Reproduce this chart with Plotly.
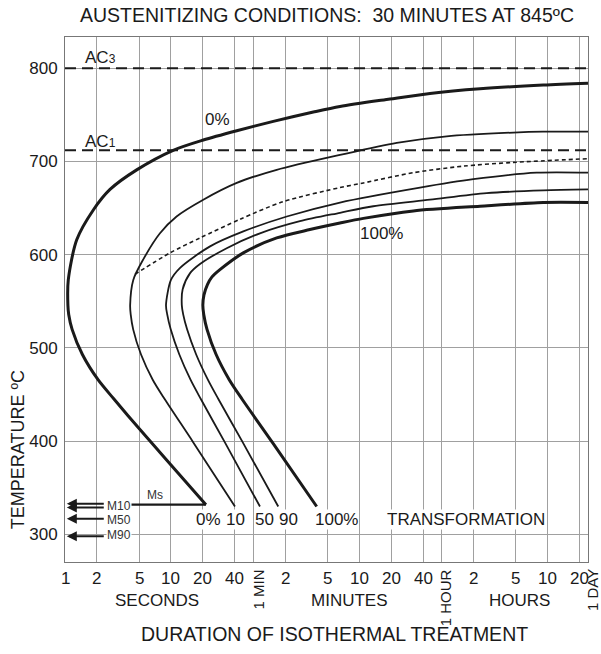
import math
import plotly.graph_objects as go

# ---- data: isothermal transformation curves (time in seconds, temperature in °C) ----
t_0pct = [21.4, 9.1, 5.15, 2.91, 2.05, 1.46, 1.167, 1.084, 1.065, 1.074, 1.29, 1.85, 2.66,
          4.75, 10.5, 20.2, 41.8, 92.5, 221, 394, 1168, 2786, 8260, 32700, 86400]
T_0pct = [332, 380, 412, 445, 466, 493, 520, 536, 546, 573, 616, 648, 670,
          691, 712, 723, 733, 743, 753, 759, 767, 773, 778, 782, 784]

t_10pct = [40.2, 16.2, 8.75, 6.73, 5.22, 4.40, 4.17, 4.12, 4.41, 5.48, 7.88, 11.3, 20.2, 41.8,
           99.6, 394, 1352, 4010, 17000, 32500, 86400]
T_10pct = [330, 399, 445, 466, 493, 520, 536, 546, 573, 595, 623, 641, 659, 677,
           691, 707, 720, 727, 731, 732, 732]

t_dash = [4.57, 9.8, 18.8, 44.8, 115, 394, 655, 1938, 5740, 17000, 86400]
T_dash = [579, 602, 618, 638, 657, 672, 677, 688, 695, 699, 703]

t_50pct = [69.2, 32.2, 19.2, 15.3, 12.0, 9.95, 9.22, 8.98, 10.0, 12.2, 23.4, 48.2, 124, 394,
           2240, 7140, 28300, 86400]
T_50pct = [330, 399, 445, 466, 493, 520, 536, 546, 573, 586, 609, 625, 641, 656,
           672, 681, 688, 688]

t_90pct = [103, 47.5, 28.1, 22.3, 17.3, 14.2, 13.05, 12.66, 12.9, 15.1, 18.8, 33.6, 69.2, 165,
           394, 813, 2786, 9550, 32700, 86400]
T_90pct = [330, 399, 445, 466, 493, 520, 536, 546, 563, 580, 590, 607, 623, 636,
           645, 652, 659, 666, 669, 670]

t_100pct = [237.5, 90.3, 47.0, 35.5, 26.7, 21.9, 20.4, 20.0, 20.5, 22.1, 24.3, 29, 48.2, 99.6,
            205, 394, 655, 1938, 8260, 32700, 86400]
T_100pct = [330, 399, 445, 466, 493, 520, 536, 546, 557, 568, 576, 584, 602, 618,
            627, 634, 639, 647, 652, 656, 656]

# critical temperatures
AC3 = 800
AC1 = 712
MS = 332
MS_START = 4.2            # left end of the Ms line (s)
M_ARROWS = [333, 329, 317, 298]
M_LABELS = [("M10", 331), ("M50", 316), ("M90", 299)]

# axis ticks
grid_times = [1, 2, 5, 10, 20, 40, 60, 120, 300, 600, 1200, 2400, 3600,
              7200, 18000, 36000, 72000, 86400]
tick_times = [1, 2, 5, 10, 20, 40, 120, 300, 600, 1200, 2400, 7200, 18000, 36000, 72000]
tick_texts = ["1", "2", "5", "10", "20", "40", "2", "5", "10", "20", "40", "2", "5", "10", "20"]
unit_times = [60, 3600, 86400]
unit_texts = ["1 MIN", "1 HOUR", "1 DAY"]
unit_shifts = [5, 4, 4]
group_times = [7.4, 480, 19700]
group_texts = ["SECONDS", "MINUTES", "HOURS"]
temp_ticks = [300, 400, 500, 600, 700, 800]

# curve labels
pct_label_times = [22.4, 41, 77, 130, 369]
pct_label_texts = ["0%", "10", "50", "90", "100%"]

FONT = "Liberation Sans, Arial, sans-serif"
INK = "#1a1a1a"
T_MAX = 86400

fig = go.Figure()

# dashed critical lines
for level in (AC3, AC1):
    fig.add_trace(go.Scatter(x=[1, T_MAX], y=[level, level], mode="lines",
                             line=dict(color=INK, width=2, dash="11px,6px"),
                             hoverinfo="skip"))

curves = [
    (t_0pct, T_0pct, 3.0, "solid"),
    (t_10pct, T_10pct, 1.8, "solid"),
    (t_dash, T_dash, 1.6, "4px,3px"),
    (t_50pct, T_50pct, 1.8, "solid"),
    (t_90pct, T_90pct, 1.8, "solid"),
    (t_100pct, T_100pct, 3.0, "solid"),
]
for t, T, w, d in curves:
    fig.add_trace(go.Scatter(x=t, y=T, mode="lines",
                             line=dict(color=INK, width=w, dash=d, shape="spline", smoothing=0.8),
                             hoverinfo="skip"))

# Ms line to the start of the 0% curve
fig.add_trace(go.Scatter(x=[MS_START, t_0pct[0]], y=[MS, T_0pct[0]], mode="lines",
                         line=dict(color=INK, width=2.2), hoverinfo="skip"))

ann = []
# martensite arrows
for lvl in M_ARROWS:
    ann.append(dict(x=math.log10(1.04), y=lvl, ax=math.log10(2.4), ay=lvl,
                    xref="x", yref="y", axref="x", ayref="y", text="", showarrow=True,
                    arrowhead=2, arrowsize=1.0, arrowwidth=2, arrowcolor=INK))
for txt, lvl in M_LABELS:
    ann.append(dict(x=math.log10(3.2), y=lvl, xref="x", yref="y", text=txt, showarrow=False,
                    font=dict(family=FONT, size=12, color="#333"), bgcolor="white", borderpad=0))
ann.append(dict(x=math.log10(7.1), y=342, xref="x", yref="y", text="Ms", showarrow=False,
                font=dict(family=FONT, size=12, color="#333")))

# curve labels
for tt, txt in zip(pct_label_times, pct_label_texts):
    ann.append(dict(x=math.log10(tt), y=316, xref="x", yref="y", text=txt, showarrow=False,
                    font=dict(family=FONT, size=17, color=INK), bgcolor="white", borderpad=0))
ann.append(dict(x=math.log10(6090), y=316, xref="x", yref="y", text="TRANSFORMATION",
                showarrow=False, font=dict(family=FONT, size=17, color=INK),
                bgcolor="white", borderpad=0))
ann.append(dict(x=math.log10(27.8), y=745, xref="x", yref="y", text="0%", showarrow=False,
                font=dict(family=FONT, size=17, color=INK)))
ann.append(dict(x=math.log10(975), y=623, xref="x", yref="y", text="100%", showarrow=False,
                font=dict(family=FONT, size=17, color=INK)))
ann.append(dict(x=math.log10(2.14), y=812, xref="x", yref="y",
                text='AC<span style="font-size:12px">3</span>', showarrow=False,
                font=dict(family=FONT, size=17, color=INK)))
ann.append(dict(x=math.log10(2.14), y=721, xref="x", yref="y",
                text='AC<span style="font-size:12px">1</span>', showarrow=False,
                font=dict(family=FONT, size=17, color=INK)))

# x tick labels
for tt, txt in zip(tick_times, tick_texts):
    ann.append(dict(x=math.log10(tt), y=0, xref="x", yref="paper", yanchor="top", yshift=-5,
                    text=txt, showarrow=False, font=dict(family=FONT, size=17, color=INK)))
for tt, txt, sh in zip(unit_times, unit_texts, unit_shifts):
    ann.append(dict(x=math.log10(tt), y=0, xref="x", yref="paper", yanchor="top", yshift=-5,
                    xshift=sh, text=txt, textangle=-90, showarrow=False,
                    font=dict(family=FONT, size=15, color=INK)))
for tt, txt in zip(group_times, group_texts):
    ann.append(dict(x=math.log10(tt), y=0, xref="x", yref="paper", yanchor="top", yshift=-27,
                    text=txt, showarrow=False, font=dict(family=FONT, size=17, color=INK)))

# axis titles and heading
ann.append(dict(x=0.515, y=0, xref="paper", yref="paper", yanchor="top", yshift=-59,
                text="DURATION OF ISOTHERMAL TREATMENT", showarrow=False,
                font=dict(family=FONT, size=19.5, color=INK)))
ann.append(dict(x=0, y=0.213, xref="paper", yref="paper", xanchor="center", yanchor="middle",
                xshift=-47, text="TEMPERATURE ºC", textangle=-90, showarrow=False,
                font=dict(family=FONT, size=18, color=INK)))
ann.append(dict(x=0.5, y=1, xref="paper", yref="paper", yanchor="bottom", yshift=9,
                text="AUSTENITIZING CONDITIONS:  30 MINUTES AT 845ºC", showarrow=False,
                font=dict(family=FONT, size=19.5, color=INK)))

fig.update_layout(
    width=601, height=654,
    margin=dict(l=65, r=13, t=37, b=92),
    paper_bgcolor="white", plot_bgcolor="white",
    showlegend=False,
    annotations=ann,
    xaxis=dict(type="log", range=[0, math.log10(T_MAX)], tickvals=grid_times,
               showticklabels=False, ticks="", showgrid=True, gridcolor="#a0a0a0",
               gridwidth=1, showline=True, linecolor="#777", linewidth=1, mirror=True,
               zeroline=False),
    yaxis=dict(range=[270.5, 833.5], tickvals=temp_ticks, ticks="",
               tickfont=dict(family=FONT, size=17, color=INK), ticklabelstandoff=3,
               showgrid=True, gridcolor="#a0a0a0", gridwidth=1, showline=True,
               linecolor="#777", linewidth=1, mirror=True, zeroline=False),
)

fig.write_html("out.html")
